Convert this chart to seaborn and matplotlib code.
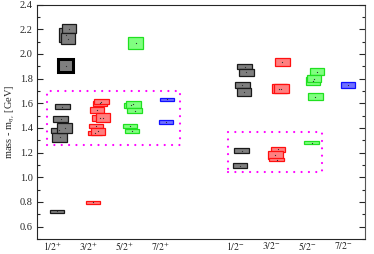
import numpy as np
import matplotlib
matplotlib.use('Agg')
import matplotlib.pyplot as plt
import seaborn as sns

# lattice levels: box centre (x), mass (y), half height (err)
black_x = [1.389, 1.467, 1.439, 1.18, 1.208, 1.347, 1.29, 1.236, 1.144,
           6.347, 6.394, 6.283, 6.328, 6.264, 6.214]
black_y = [2.153, 2.204, 2.122, 1.380, 1.323, 1.401, 1.573, 1.473, 0.724,
           1.895, 1.851, 1.750, 1.691, 1.214, 1.092]
black_err = [0.055, 0.038, 0.045, 0.018, 0.040, 0.040, 0.020, 0.023, 0.010,
             0.020, 0.027, 0.024, 0.030, 0.020, 0.020]
# the highlighted (thick bordered) level
hl_x = [1.383]
hl_y = [1.906]
hl_err = [0.056]

red_x = [2.333, 2.369, 2.250, 2.319, 2.408, 2.200, 2.227, 2.273, 2.144,
         7.394, 7.310, 7.366, 7.273, 7.200, 7.236]
red_y = [1.599, 1.612, 1.547, 1.482, 1.484, 1.358, 1.413, 1.372, 0.796,
         1.934, 1.718, 1.718, 1.227, 1.182, 1.142]
red_err = [0.019, 0.019, 0.024, 0.027, 0.039, 0.016, 0.016, 0.030, 0.011,
           0.030, 0.035, 0.038, 0.020, 0.030, 0.011]

green_x = [3.319, 3.194, 3.259, 3.292, 3.158, 3.228,
           8.244, 8.350, 8.280, 8.314, 8.208]
green_y = [2.088, 1.583, 1.591, 1.541, 1.417, 1.372,
           1.778, 1.855, 1.799, 1.653, 1.280]
green_err = [0.051, 0.018, 0.027, 0.023, 0.015, 0.016,
             0.031, 0.027, 0.030, 0.027, 0.014]

blue_x = [4.200, 4.172, 9.217]
blue_y = [1.632, 1.450, 1.748]
blue_err = [0.014, 0.014, 0.022]

# dotted frames (x0, x1, y0, y1)
frame_pos = [0.853, 4.556, 1.261, 1.701]
frame_neg = [5.880, 8.508, 1.040, 1.369]

tick_pos = [1.0, 2.0, 3.0, 4.0, 6.1, 7.1, 8.1, 9.1]
tick_labels = [r'$1/2^{+}$', r'$3/2^{+}$', r'$5/2^{+}$', r'$7/2^{+}$',
               r'$1/2^{-}$', r'$3/2^{-}$', r'$5/2^{-}$', r'$7/2^{-}$']

sns.set_style('ticks')
plt.rcParams['font.family'] = ['Liberation Serif', 'DejaVu Serif']
plt.rcParams['mathtext.fontset'] = 'stix'
plt.rcParams['font.size'] = 7.5

fig, ax = plt.subplots(figsize=(3.74, 2.54), dpi=100)
fig.subplots_adjust(left=0.099, right=0.976, bottom=0.059, top=0.982)

W = 0.4

def boxes(xs, ys, errs, face, edge, lw=0.9, width=W):
    xs = np.array(xs); ys = np.array(ys); errs = np.array(errs)
    for x, y, e in zip(xs, ys, errs):
        ax.bar(x, 2 * e, bottom=y - e, width=width, color=face,
               edgecolor=edge, linewidth=lw, zorder=3)
    sns.scatterplot(x=xs, y=ys, ax=ax, s=0.8, color='#303030',
                    linewidth=0, zorder=4, legend=False)

def frame(f):
    x0, x1, y0, y1 = f
    ax.plot([x0, x1, x1, x0, x0], [y0, y0, y1, y1, y0], color='#ff00ff',
            lw=1.6, linestyle=(0, (0.01, 3.3)), dash_capstyle='round', zorder=2)

frame(frame_pos)
frame(frame_neg)

boxes(black_x, black_y, black_err, '#7f7f7f', '#1a1a1a')
boxes(hl_x, hl_y, hl_err, '#7f7f7f', '#000000', lw=2.2, width=0.42)
boxes(red_x, red_y, red_err, '#ff8080', '#ff1010')
boxes(green_x, green_y, green_err, '#80ff80', '#20e020')
boxes(blue_x, blue_y, blue_err, '#7070ff', '#1010ff')

ax.set_xlim(0.583, 9.69)
ax.set_ylim(0.5, 2.4)
ax.set_xticks(tick_pos)
ax.set_xticklabels(tick_labels, fontsize=7)
ax.tick_params(axis='x', length=0, pad=1)
ax.set_yticks(np.arange(0.6, 2.41, 0.2))
ax.set_yticklabels([f'{v:.1f}' for v in np.arange(0.6, 2.41, 0.2)])
ax.set_yticks(np.arange(0.5, 2.41, 0.1), minor=True)
ax.tick_params(axis='y', which='major', direction='in', length=4, width=0.8,
               right=True, pad=3)
ax.tick_params(axis='y', which='minor', direction='in', length=2.5, width=0.8,
               right=True)
ax.set_ylabel(r'mass - m$_{\eta_c}$ [GeV]', labelpad=2)
for s in ax.spines.values():
    s.set_linewidth(0.8)
ax.spines['right'].set_color('#555555')

fig.savefig('out.png', dpi=100)
